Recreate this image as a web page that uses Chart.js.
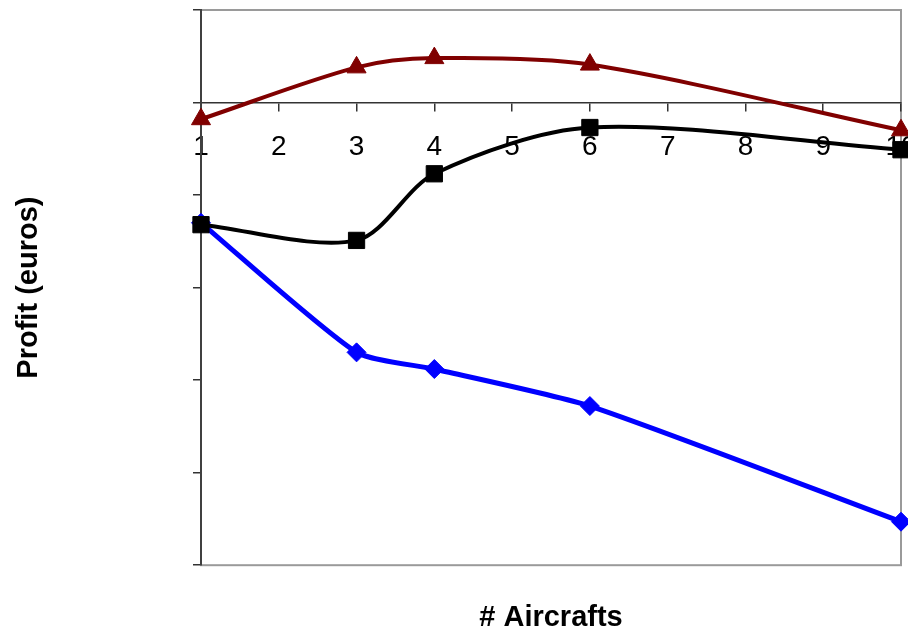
<!DOCTYPE html>
<html>
<head>
<meta charset="utf-8">
<script src="https://cdn.jsdelivr.net/npm/chart.js@4/dist/chart.umd.min.js"></script>
<style>
  html, body { margin: 0; padding: 0; background: #fff; }
</style>
</head>
<body>
<canvas id="myChartProfit" width="908" height="636"></canvas>
<script>
// measured fleet sizes (only these have markers)
var aircrafts = [1, 3, 4, 6, 10];

// profit of each scenario, in euros
var profitRed = [-1800, 3800, 4800, 4100, -3000];
var profitBlack = [-13200, -14900, -7700, -2700, -5100];
var profitBlue = [-13000, -27000, -28800, -32800, -45300];

// axis ticks
var xTicks = [1, 2, 3, 4, 5, 6, 7, 8, 9, 10];
var yTicks = [-50000, -40000, -30000, -20000, -10000, 0, 10000];

var fontName = "'Liberation Sans', Arial, sans-serif";

function toPoints(values) {
  return values.map(function (v, i) { return { x: aircrafts[i], y: v }; });
}

// grey frame round the plot area, like the spreadsheet chart
var plotFrame = {
  id: 'plotFrame',
  beforeDraw: function (chart) {
    var a = chart.chartArea;
    var ctx = chart.ctx;
    ctx.save();
    ctx.strokeStyle = '#9a9a9a';
    ctx.lineWidth = 2;
    ctx.strokeRect(a.left, a.top, a.right - a.left, a.bottom - a.top);
    ctx.restore();
  }
};

const ctx = document.getElementById('myChartProfit');

new Chart(ctx, {
  type: 'line',
  data: {
    datasets: [{
      label: 'Red',
      data: toPoints(profitRed),
      borderColor: '#800000',
      backgroundColor: '#800000',
      borderWidth: 4,
      pointStyle: 'triangle',
      pointRadius: 11,
      pointBorderWidth: 1,
      tension: 0.3,
      clip: false
    }, {
      label: 'Black',
      data: toPoints(profitBlack),
      borderColor: '#000000',
      backgroundColor: '#000000',
      borderWidth: 4,
      pointStyle: 'rect',
      pointRadius: 11.5,
      pointBorderWidth: 1,
      tension: 0.3,
      clip: false
    }, {
      label: 'Blue',
      data: toPoints(profitBlue),
      borderColor: '#0000ff',
      backgroundColor: '#0000ff',
      borderWidth: 5,
      pointStyle: 'rectRot',
      pointRadius: 9.5,
      pointBorderWidth: 1,
      tension: 0.2,
      clip: false
    }]
  },
  options: {
    responsive: false,
    animation: false,
    devicePixelRatio: 1,
    layout: { autoPadding: false, padding: { top: 10, right: 7, left: 0, bottom: 0 } },
    plugins: {
      legend: { display: false },
      tooltip: { enabled: false },
      title: {
        display: true,
        position: 'bottom',
        fullSize: false,
        text: '# Aircrafts',
        color: '#000',
        font: { family: fontName, size: 29, weight: 'bold' },
        padding: { top: 35, bottom: 1 }
      }
    },
    scales: {
      x: {
        type: 'linear',
        position: { y: 0 },
        min: 1,
        max: 10,
        afterBuildTicks: function (scale) {
          scale.ticks = xTicks.map(function (v) { return { value: v }; });
        },
        afterFit: function (scale) {
          scale.paddingLeft = 0;
          scale.paddingRight = 0;
        },
        grid: { drawOnChartArea: false, drawTicks: true, tickLength: 8, color: '#333', lineWidth: 1.5 },
        border: { color: '#333', width: 1.5 },
        ticks: {
          color: '#000',
          padding: 20,
          maxRotation: 0,
          autoSkip: false,
          font: { family: fontName, size: 28 }
        }
      },
      y: {
        min: -50000,
        max: 10000,
        afterBuildTicks: function (scale) {
          scale.ticks = yTicks.map(function (v) { return { value: v }; });
        },
        afterFit: function (scale) {
          scale.width = 201;
          scale.paddingTop = 0;
          scale.paddingBottom = 0;
        },
        grid: { drawOnChartArea: false, drawTicks: true, tickLength: 8, color: '#333', lineWidth: 1.5 },
        border: { color: '#404040', width: 2 },
        ticks: { display: false },
        title: {
          display: true,
          text: 'Profit (euros)',
          color: '#000',
          font: { family: fontName, size: 29, weight: 'bold' },
          padding: { top: 12, bottom: 0 }
        }
      }
    }
  },
  plugins: [plotFrame]
});
</script>
</body>
</html>
